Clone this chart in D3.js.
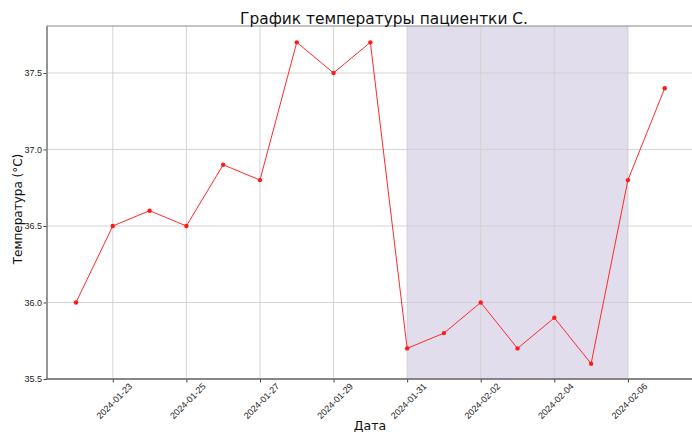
<!DOCTYPE html>
<html><head><meta charset="utf-8">
<script src="https://cdn.jsdelivr.net/npm/d3@7"></script>
<style>
body{margin:0;background:#fff;overflow:hidden}
svg{display:block;font-family:"DejaVu Sans",sans-serif}
</style></head>
<body><svg id="c" width="692" height="432"></svg>
<script>
const dates = ["2024-01-22","2024-01-23","2024-01-24","2024-01-25","2024-01-26","2024-01-27","2024-01-28","2024-01-29","2024-01-30","2024-01-31","2024-02-01","2024-02-02","2024-02-03","2024-02-04","2024-02-05","2024-02-06","2024-02-07"];
const temps = [36.0,36.5,36.6,36.5,36.9,36.8,37.7,37.5,37.7,35.7,35.8,36.0,35.7,35.9,35.6,36.8,37.4];
const xTicks = ["2024-01-23","2024-01-25","2024-01-27","2024-01-29","2024-01-31","2024-02-02","2024-02-04","2024-02-06"];
const yTicks = [35.5,36.0,36.5,37.0,37.5];
const shadeRange = ["2024-01-31","2024-02-06"];
const title = "График температуры пациентки С.";
const xLabel = "Дата";
const yLabel = "Температура (°C)";

const parse = d3.utcParse("%Y-%m-%d");
const data = dates.map((d,i)=>({date:parse(d), t:temps[i]}));
const svg = d3.select("#c");
const m = {l:47, t:26, r:721, b:379};
const day = 864e5;
const x0 = parse(dates[0]), x1 = parse(dates[dates.length-1]);
const x = d3.scaleUtc()
  .domain([new Date(+x0 - 0.788*day), new Date(+x1 + 1.53*day)])
  .range([m.l, m.r]);
const y = d3.scaleLinear().domain([35.5, 37.807]).range([m.b, m.t]);

// shaded span
svg.append("rect")
  .attr("x", x(parse(shadeRange[0])))
  .attr("y", m.t)
  .attr("width", x(parse(shadeRange[1])) - x(parse(shadeRange[0])))
  .attr("height", m.b - m.t)
  .attr("fill", "#e1ddec");

// grid
const g = svg.append("g");
g.selectAll(".vx").data(xTicks).join("line")
  .attr("x1", d=>x(parse(d))).attr("x2", d=>x(parse(d)))
  .attr("y1", m.t).attr("y2", m.b)
  .attr("stroke", "#cfcfcf").attr("stroke-width", 0.9);
g.selectAll(".hy").data(yTicks).join("line")
  .attr("y1", d=>y(d)).attr("y2", d=>y(d))
  .attr("x1", m.l).attr("x2", m.r)
  .attr("stroke", "#cfcfcf").attr("stroke-width", 0.9);

// axes
const xAxis = svg.append("g").attr("transform", `translate(0,${m.b})`)
  .call(d3.axisBottom(x).tickValues(xTicks.map(parse)).tickFormat(d3.utcFormat("%Y-%m-%d")).tickSizeOuter(0).tickSize(3.5));
xAxis.select(".domain").remove();
xAxis.selectAll(".tick line").attr("stroke", "#444");
xAxis.selectAll("text")
  .attr("font-size", 9).attr("fill", "#222")
  .attr("text-anchor", "middle")
  .attr("dy", "0.35em").attr("y", 0)
  .attr("transform", "translate(1,22) rotate(-45)");

const yAxis = svg.append("g").attr("transform", `translate(${m.l},0)`)
  .call(d3.axisLeft(y).tickValues(yTicks).tickFormat(d3.format(".1f")).tickSizeOuter(0).tickSize(3.5));
yAxis.select(".domain").remove();
yAxis.selectAll(".tick line").attr("stroke", "#444");
yAxis.selectAll("text").attr("font-size", 9).attr("fill", "#222").attr("x", -5);

// spines
svg.append("line").attr("x1", m.l).attr("x2", m.l).attr("y1", m.t).attr("y2", m.b)
  .attr("stroke", "#8a8a8a").attr("stroke-width", 1.8);
svg.append("line").attr("x1", m.l).attr("x2", m.r).attr("y1", m.b).attr("y2", m.b)
  .attr("stroke", "#666").attr("stroke-width", 1.3);
svg.append("line").attr("x1", m.l).attr("x2", m.r).attr("y1", m.t).attr("y2", m.t)
  .attr("stroke", "#8a8a8a").attr("stroke-width", 1.2);

// line
svg.append("path").datum(data)
  .attr("d", d3.line().x(d=>x(d.date)).y(d=>y(d.t)))
  .attr("fill", "none").attr("stroke", "#ff2a2a").attr("stroke-width", 1);
svg.selectAll(".pt").data(data).join("circle")
  .attr("cx", d=>x(d.date)).attr("cy", d=>y(d.t)).attr("r", 2.2)
  .attr("fill", "#ff1a1a");

// labels
svg.append("text").attr("x", 384).attr("y", 24).attr("text-anchor", "middle")
  .attr("font-size", 15.4).attr("fill", "#111").text(title);
svg.append("text").attr("x", 370).attr("y", 430).attr("text-anchor", "middle")
  .attr("font-size", 12.5).attr("fill", "#111").text(xLabel);
svg.append("text").attr("transform", "translate(22,209) rotate(-90)").attr("text-anchor", "middle")
  .attr("font-size", 12).attr("fill", "#111").text(yLabel);
</script></body></html>
